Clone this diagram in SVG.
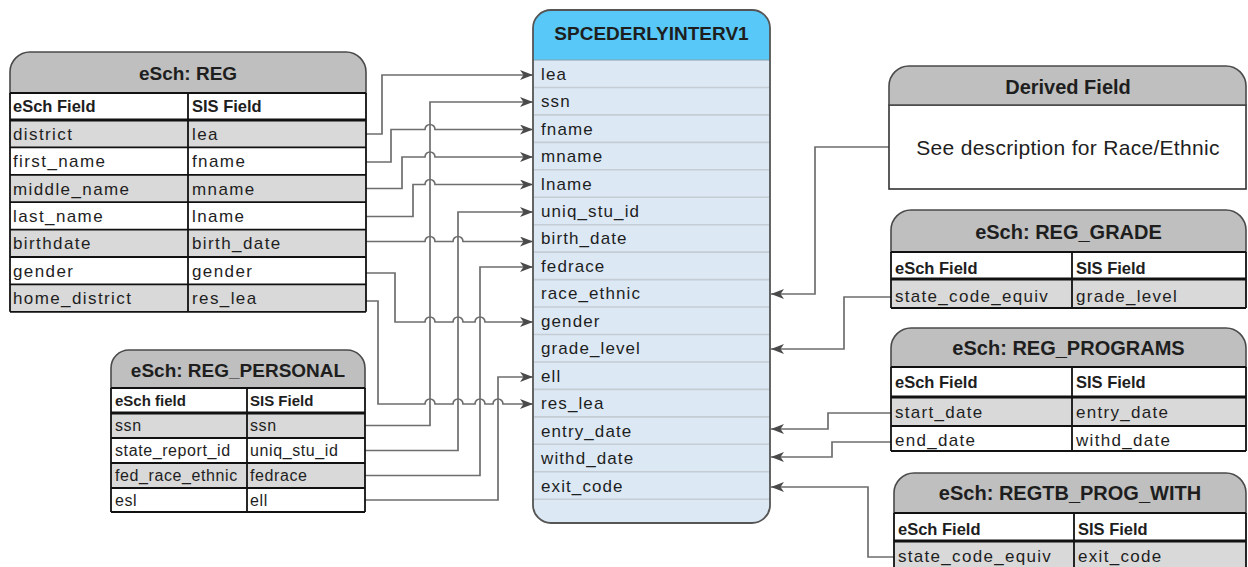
<svg xmlns="http://www.w3.org/2000/svg" width="1248" height="567" viewBox="0 0 1248 567">
<defs>
<style>
text{font-family:"Liberation Sans",Arial,sans-serif;fill:#1e1e1e}
.ttl{font-weight:bold;font-size:19px;text-anchor:middle}
.ttl2{font-weight:bold;font-size:20px;text-anchor:middle}
.ch{font-weight:bold;font-size:16.5px}
.ch2{font-weight:bold;font-size:15px}
.f{font-size:17px;letter-spacing:1.4px}
.fp{font-size:16px;letter-spacing:0.6px}
.fc{font-size:17px;letter-spacing:1.1px}
.fr{font-size:17px;letter-spacing:1.3px}
.hd{fill:#bfbfbf;stroke:#4a4a4a;stroke-width:1.6}
.w{fill:#ffffff}
.g{fill:#d9d9d9}
.ln{stroke:#111;stroke-width:1.8;fill:none}
.lt{stroke:#111;stroke-width:3;fill:none}
.rs{stroke:#c4ccd4;stroke-width:1.6}
.conn{fill:none;stroke:#6e6e6e;stroke-width:1.7}
</style>
<marker id="arr" markerWidth="13" markerHeight="10" refX="13" refY="5" orient="auto" markerUnits="userSpaceOnUse">
<path d="M0,0 L13,5 L0,10 L3.5,5 Z" fill="#4a4a4a"/>
</marker>
</defs>
<rect width="1248" height="567" fill="#ffffff"/>

<g id="connectors">
<path class="conn" marker-end="url(#arr)" d="M366,134 H382 V75 H533"/>
<path class="conn" marker-end="url(#arr)" d="M365,425.5 H430 V102 H533"/>
<path class="conn" marker-end="url(#arr)" d="M366,162 H391 V129.5 H425 A5,5 0 0 1 435,129.5 H533"/>
<path class="conn" marker-end="url(#arr)" d="M366,188.5 H402 V157 H425 A5,5 0 0 1 435,157 H533"/>
<path class="conn" marker-end="url(#arr)" d="M366,216.5 H413 V184.5 H425 A5,5 0 0 1 435,184.5 H533"/>
<path class="conn" marker-end="url(#arr)" d="M365,450.5 H458 V212 H533"/>
<path class="conn" marker-end="url(#arr)" d="M366,241.5 H425 A5,5 0 0 1 435,241.5 H453 A5,5 0 0 1 463,241.5 H533"/>
<path class="conn" marker-end="url(#arr)" d="M365,475.5 H480 V267 H533"/>
<path class="conn" marker-end="url(#arr)" d="M366,273 H395 V322 H425 A5,5 0 0 1 435,322 H453 A5,5 0 0 1 463,322 H475 A5,5 0 0 1 485,322 H533"/>
<path class="conn" marker-end="url(#arr)" d="M365,500 H498 V377 H533"/>
<path class="conn" marker-end="url(#arr)" d="M366,301 H378 V404 H425 A5,5 0 0 1 435,404 H453 A5,5 0 0 1 463,404 H475 A5,5 0 0 1 485,404 H493 A5,5 0 0 1 503,404 H533"/>
<path class="conn" marker-end="url(#arr)" d="M889,147 H815 V294 H771"/>
<path class="conn" marker-end="url(#arr)" d="M891,297 H844 V349 H771"/>
<path class="conn" marker-end="url(#arr)" d="M891,413 H828 V429 H771"/>
<path class="conn" marker-end="url(#arr)" d="M891,442 H832 V457 H771"/>
<path class="conn" marker-end="url(#arr)" d="M894,557 H868 V487 H771"/>
</g>

<g id="reg">
<path class="hd" d="M10,93 V72 A20,20 0 0 1 30,52 H346 A20,20 0 0 1 366,72 V93 Z"/>
<text class="ttl" x="188" y="80">eSch: REG</text>
<rect class="w" x="10" y="93" width="356" height="27"/>
<rect class="g" x="10" y="120" width="356" height="27.4"/>
<rect class="w" x="10" y="147.4" width="356" height="27.4"/>
<rect class="g" x="10" y="174.8" width="356" height="27.4"/>
<rect class="w" x="10" y="202.2" width="356" height="27.4"/>
<rect class="g" x="10" y="229.6" width="356" height="27.4"/>
<rect class="w" x="10" y="257" width="356" height="27.4"/>
<rect class="g" x="10" y="284.4" width="356" height="27.4"/>
<path class="ln" d="M10,93 H366 M10,147.4 H366 M10,174.8 H366 M10,202.2 H366 M10,229.6 H366 M10,257 H366 M10,284.4 H366 M10,311.8 H366 M10,93 V311.8 M188,93 V311.8 M366,93 V311.8"/>
<path class="lt" d="M10,120 H366"/>
<text class="ch" x="13" y="112">eSch Field</text>
<text class="ch" x="192" y="112">SIS Field</text>
<text class="f" x="13" y="139.7">district</text><text class="f" x="192" y="139.7">lea</text>
<text class="f" x="13" y="167.1">first_name</text><text class="f" x="192" y="167.1">fname</text>
<text class="f" x="13" y="194.5">middle_name</text><text class="f" x="192" y="194.5">mname</text>
<text class="f" x="13" y="221.9">last_name</text><text class="f" x="192" y="221.9">lname</text>
<text class="f" x="13" y="249.3">birthdate</text><text class="f" x="192" y="249.3">birth_date</text>
<text class="f" x="13" y="276.7">gender</text><text class="f" x="192" y="276.7">gender</text>
<text class="f" x="13" y="304.1">home_district</text><text class="f" x="192" y="304.1">res_lea</text>
</g>

<g id="reg_personal">
<path class="hd" d="M111,388 V368 A18,18 0 0 1 129,350 H347 A18,18 0 0 1 365,368 V388 Z"/>
<text class="ttl" x="238" y="377">eSch: REG_PERSONAL</text>
<rect class="w" x="111" y="388" width="254" height="25"/>
<rect class="g" x="111" y="413" width="254" height="25"/>
<rect class="w" x="111" y="438" width="254" height="25"/>
<rect class="g" x="111" y="463" width="254" height="25"/>
<rect class="w" x="111" y="488" width="254" height="24"/>
<path class="ln" d="M111,388 H365 M111,438 H365 M111,463 H365 M111,488 H365 M111,512 H365 M111,388 V512 M247,388 V512 M365,388 V512"/>
<path class="lt" d="M111,413 H365"/>
<text class="ch2" x="115" y="406">eSch field</text>
<text class="ch2" x="250" y="406">SIS Field</text>
<text class="fp" x="115" y="431">ssn</text><text class="fp" x="250" y="431">ssn</text>
<text class="fp" x="115" y="456">state_report_id</text><text class="fp" x="250" y="456">uniq_stu_id</text>
<text class="fp" x="115" y="481">fed_race_ethnic</text><text class="fp" x="250" y="481">fedrace</text>
<text class="fp" x="115" y="505.5">esl</text><text class="fp" x="250" y="505.5">ell</text>
</g>

<g id="spcederlyinterv1">
<rect x="533" y="10" width="237" height="513" rx="18" fill="#dce9f5"/>
<path d="M533,60 V28 A18,18 0 0 1 551,10 H752 A18,18 0 0 1 770,28 V60 Z" fill="#57c8f7"/>
<path class="rs" d="M534,87.45 H769 M534,114.9 H769 M534,142.35 H769 M534,169.8 H769 M534,197.25 H769 M534,224.7 H769 M534,252.15 H769 M534,279.6 H769 M534,307.05 H769 M534,334.5 H769 M534,361.95 H769 M534,389.4 H769 M534,416.85 H769 M534,444.3 H769 M534,471.75 H769 M534,499.2 H769"/>
<path d="M533,60 H770" stroke="#8aa0b0" stroke-width="1.2"/>
<rect x="533" y="10" width="237" height="513" rx="18" fill="none" stroke="#555" stroke-width="1.8"/>
<text class="ttl" x="651.5" y="40">SPCEDERLYINTERV1</text>
<text class="fc" x="541" y="79.7">lea</text>
<text class="fc" x="541" y="107.2">ssn</text>
<text class="fc" x="541" y="134.6">fname</text>
<text class="fc" x="541" y="162.1">mname</text>
<text class="fc" x="541" y="189.5">lname</text>
<text class="fc" x="541" y="217">uniq_stu_id</text>
<text class="fc" x="541" y="244.4">birth_date</text>
<text class="fc" x="541" y="271.9">fedrace</text>
<text class="fc" x="541" y="299.3">race_ethnic</text>
<text class="fc" x="541" y="326.8">gender</text>
<text class="fc" x="541" y="354.2">grade_level</text>
<text class="fc" x="541" y="381.7">ell</text>
<text class="fc" x="541" y="409.1">res_lea</text>
<text class="fc" x="541" y="436.6">entry_date</text>
<text class="fc" x="541" y="464">withd_date</text>
<text class="fc" x="541" y="491.5">exit_code</text>
</g>

<g id="derived_field">
<rect x="889" y="105" width="357" height="84" fill="#ffffff" stroke="#333" stroke-width="1.6"/>
<path class="hd" d="M889,105 V86 A20,20 0 0 1 909,66 H1226 A20,20 0 0 1 1246,86 V105 Z"/>
<text class="ttl2" x="1068" y="94">Derived Field</text>
<text x="1068" y="154.5" font-size="21" text-anchor="middle" letter-spacing="0.3">See description for Race/Ethnic</text>
</g>

<g id="reg_grade">
<path class="hd" d="M891,252 V230 A20,20 0 0 1 911,210 H1226 A20,20 0 0 1 1246,230 V252 Z"/>
<text class="ttl2" x="1068.5" y="239">eSch: REG_GRADE</text>
<rect class="w" x="891" y="252" width="355" height="27"/>
<rect class="g" x="891" y="279" width="355" height="29"/>
<path class="ln" d="M891,252 H1246 M891,308 H1246 M891,252 V308 M1072,252 V308 M1246,252 V308"/>
<path class="lt" d="M891,279 H1246"/>
<text class="ch" x="895" y="274">eSch Field</text>
<text class="ch" x="1076" y="274">SIS Field</text>
<text class="fr" x="895" y="302">state_code_equiv</text>
<text class="fr" x="1076" y="302">grade_level</text>
</g>

<g id="reg_programs">
<path class="hd" d="M891,367 V348 A20,20 0 0 1 911,328 H1226 A20,20 0 0 1 1246,348 V367 Z"/>
<text class="ttl2" x="1068.5" y="355">eSch: REG_PROGRAMS</text>
<rect class="w" x="891" y="367" width="355" height="30"/>
<rect class="g" x="891" y="397" width="355" height="29"/>
<rect class="w" x="891" y="426" width="355" height="25"/>
<path class="ln" d="M891,367 H1246 M891,426 H1246 M891,451 H1246 M891,367 V451 M1072,367 V451 M1246,367 V451"/>
<path class="lt" d="M891,397 H1246"/>
<text class="ch" x="895" y="388">eSch Field</text>
<text class="ch" x="1076" y="388">SIS Field</text>
<text class="fr" x="895" y="418">start_date</text>
<text class="fr" x="1076" y="418">entry_date</text>
<text class="fr" x="895" y="446">end_date</text>
<text class="fr" x="1076" y="446">withd_date</text>
</g>

<g id="regtb_prog_with">
<path class="hd" d="M894,513 V493 A20,20 0 0 1 914,473 H1226 A20,20 0 0 1 1246,493 V513 Z"/>
<text class="ttl2" x="1070" y="500">eSch: REGTB_PROG_WITH</text>
<rect class="w" x="894" y="513" width="352" height="28"/>
<rect class="g" x="894" y="541" width="352" height="30"/>
<path class="ln" d="M894,513 H1246 M894,513 V567 M1074,513 V567 M1246,513 V567"/>
<path class="lt" d="M894,541 H1246"/>
<text class="ch" x="898" y="535">eSch Field</text>
<text class="ch" x="1078" y="535">SIS Field</text>
<text class="fr" x="898" y="562">state_code_equiv</text>
<text class="fr" x="1078" y="562">exit_code</text>
</g>
</svg>
